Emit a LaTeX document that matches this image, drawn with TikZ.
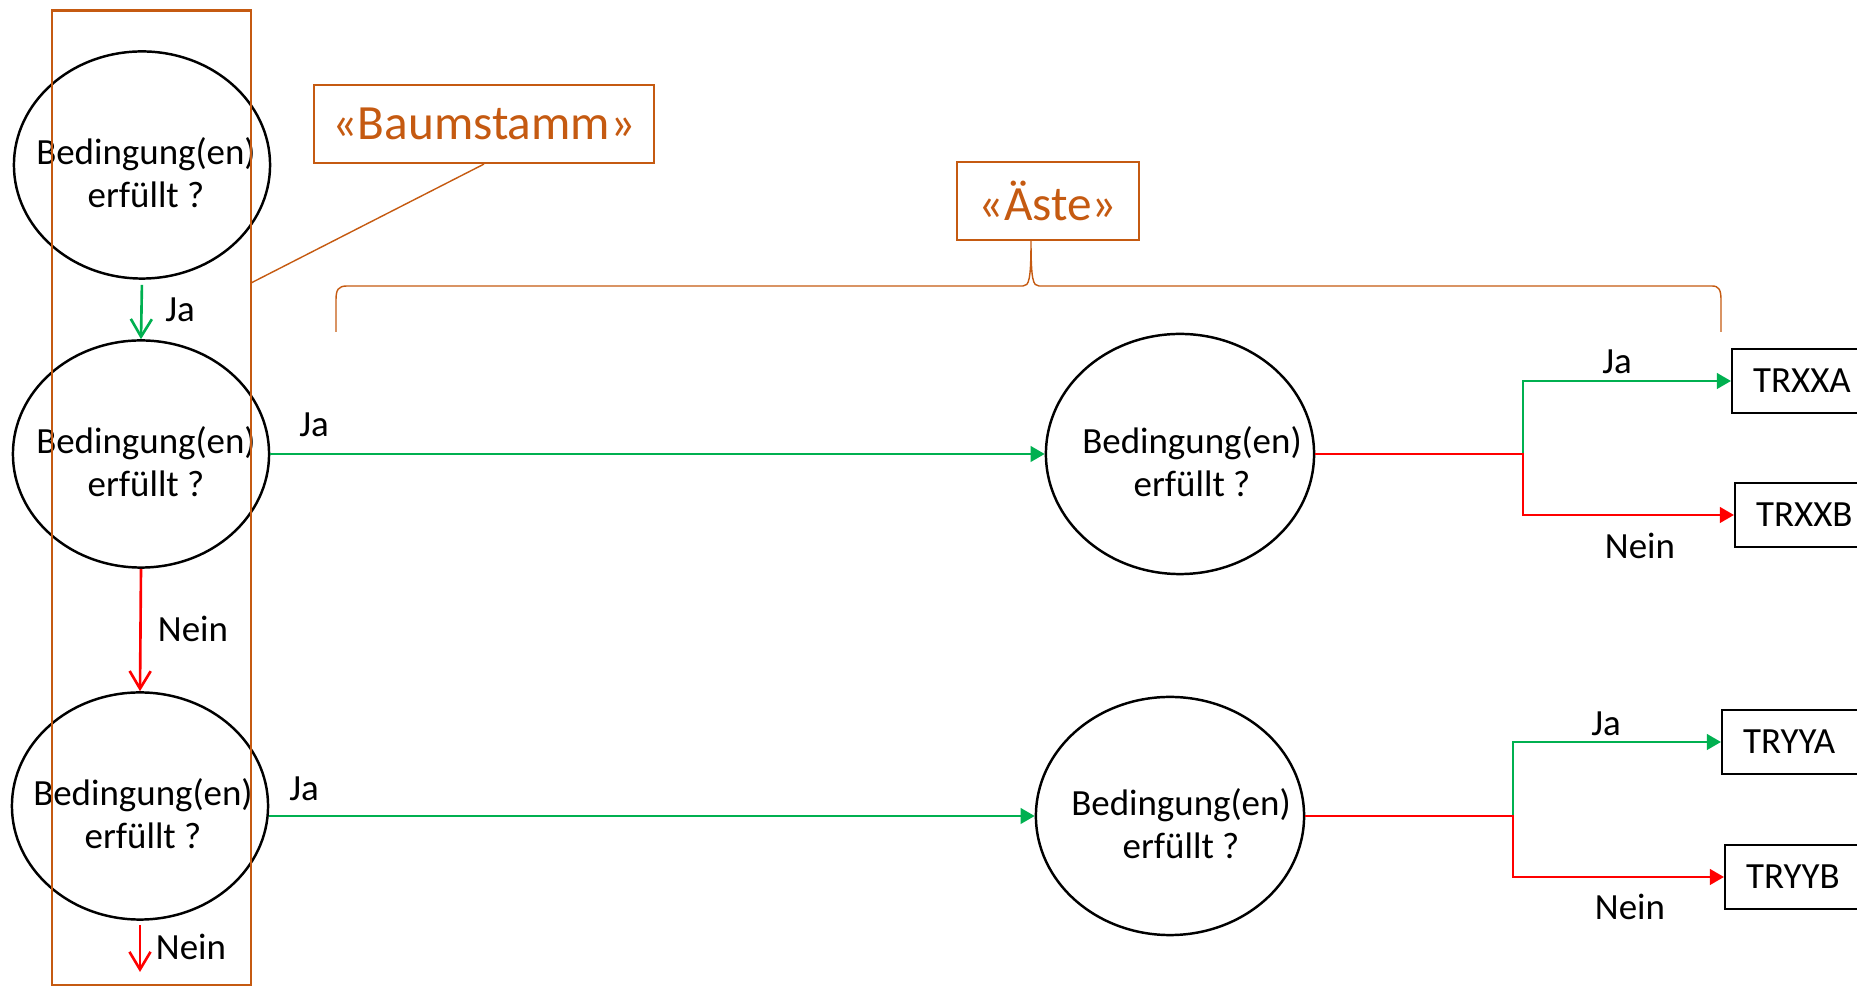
\documentclass[tikz,border=0pt]{standalone}
\usepackage{fontspec}
\setmainfont{Carlito}
\usepackage{xcolor}
\usepackage{tikz}
\usetikzlibrary{shapes.geometric,arrows.meta}
\definecolor{trunkorange}{RGB}{197,90,17}
\definecolor{jagreen}{RGB}{0,176,80}
\definecolor{neinred}{RGB}{255,0,0}
\newcommand{\condfont}{\fontsize{10.5pt}{12.3pt}\selectfont}
\newcommand{\notefont}{\fontsize{14pt}{16pt}\selectfont}
\newcommand{\condtext}{Bedingung(en)\\erfüllt ?}

\tikzset{
	cond/.style={ellipse, draw, line width=0.7pt, minimum width=2.56cm, minimum height=2.27cm, inner sep=0pt},
	condlbl/.style={align=center, font=\condfont, inner sep=0pt},
	trbox/.style={draw, line width=0.6pt, anchor=west, minimum height=0.64cm, text width=2cm, inner xsep=0.21cm, align=left, font=\condfont},
	notebox/.style={draw=trunkorange, text=trunkorange, line width=0.6pt, minimum height=0.78cm, inner sep=0pt, font=\notefont},
	lbl/.style={font=\condfont},
	jaopen/.style={draw=jagreen, line width=0.75pt, -{Straight Barb[length=5pt,width=6pt]}},
	neinopen/.style={draw=neinred, line width=0.75pt, -{Straight Barb[length=5pt,width=6pt]}},
	jaline/.style={draw=jagreen, line width=0.75pt, -{Triangle[length=4pt,width=4.4pt]}},
	neinline/.style={draw=neinred, line width=0.75pt, -{Triangle[length=4pt,width=4.4pt]}},
	callout/.style={draw=trunkorange, line width=0.4pt}
}

\begin{document}
\begin{tikzpicture}[x=0.01cm, y=-0.01cm]
	\useasboundingbox (0,0) rectangle (1857,986);
	\clip (0,0) rectangle (1857,986);

	\node[cond] (c1) at (142,165) {};
	\node[cond] (c2) at (141,454) {};
	\node[cond] (c3) at (140,806) {};
	\node[cond, minimum width=2.68cm, minimum height=2.4cm] (c4) at (1180,454) {};
	\node[cond, minimum width=2.68cm, minimum height=2.38cm] (c5) at (1170,816) {};

	\node[condlbl] at (146,173) {\condtext};
	\node[condlbl] at (146,462) {\condtext};
	\node[condlbl] at (143,814) {\condtext};
	\node[condlbl] at (1192,462) {\condtext};
	\node[condlbl] at (1181,824) {\condtext};

	\node[trbox] (trxxa) at (1731,381) {TRXXA};
	\node[trbox] (trxxb) at (1734,515) {TRXXB};
	\node[trbox] (tryya) at (1721,742) {TRYYA};
	\node[trbox] (tryyb) at (1724,877) {TRYYB};

	\node[draw=trunkorange, line width=0.8pt, minimum width=1.99cm, minimum height=9.74cm, inner sep=0pt] (stamm) at (151.5,498) {};
	\node[notebox, minimum width=3.4cm] (baum) at (484,124) {«Baumstamm»};
	\node[notebox, minimum width=1.82cm] (aeste) at (1048,201) {«Äste»};

	\coordinate (sp) at (251,283);
	\coordinate (out) at (140,972);
	\coordinate (j1) at (1523,454);
	\coordinate (j2) at (1513,816);
	\coordinate (bl) at (336,332);
	\coordinate (br) at (1721,332);
	\coordinate (bt) at (1031,240);

	\draw[callout] (baum.south) -- (sp);
	\draw[callout] (bl) -- (336,300) .. controls (336,290) and (338,286) .. (347,286) -- (1023,286) .. controls (1029,286) and (1031,280) .. (bt) .. controls (1031,280) and (1033,286) .. (1039,286) -- (1712,286) .. controls (1719,286) and (1721,290) .. (1721,300) -- (br);

	\draw[jaopen, shorten <=0.05cm] (c1.south) -- (c2.north);
	\draw[neinopen] (c2.south) -- (c3.north);
	\draw[neinopen, shorten <=0.04cm] (c3.south) -- (out);
	\draw[jaline] (c2.east) -- (c4.west);
	\draw[jaline] (c3.east |- c5.west) -- (c5.west);

	\draw[jaline] (j1) |- (trxxa.west);
	\draw[neinline] (c4.east) -- (j1) |- (trxxb.west);
	\draw[jaline] (j2) |- (tryya.west);
	\draw[neinline] (c5.east) -- (j2) |- (tryyb.west);

	\node[lbl] at (180,310) {Ja};
	\node[lbl] at (193,629) {Nein};
	\node[lbl] at (191,947) {Nein};
	\node[lbl] at (314,425) {Ja};
	\node[lbl] at (304,789) {Ja};
	\node[lbl] at (1617,362) {Ja};
	\node[lbl] at (1640,546) {Nein};
	\node[lbl] at (1606,724) {Ja};
	\node[lbl] at (1630,907) {Nein};
\end{tikzpicture}
\end{document}
